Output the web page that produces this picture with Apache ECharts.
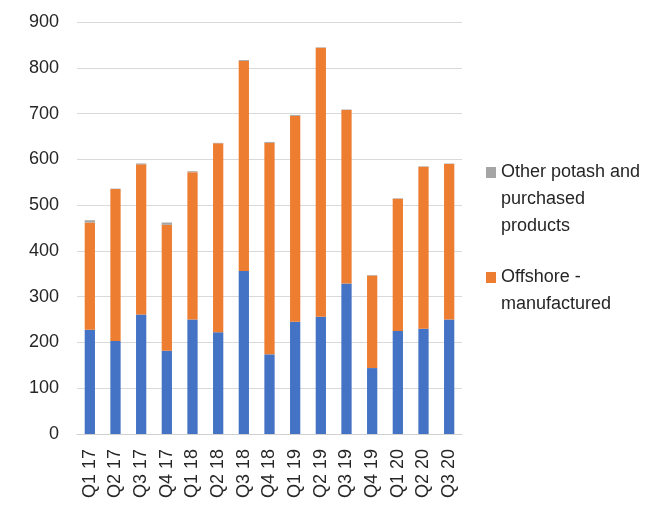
<!DOCTYPE html>
<html>
<head>
<meta charset="utf-8">
<script src="https://cdn.jsdelivr.net/npm/echarts@6/dist/echarts.min.js"></script>
<style>
  html, body { margin: 0; padding: 0; background: #fff; }
  #chart { width: 658px; height: 506px; }
</style>
</head>
<body>
<div id="chart"></div>
<script>
// Quarterly potash sales volumes, stacked by source
const quarters = ['Q1 17','Q2 17','Q3 17','Q4 17','Q1 18','Q2 18','Q3 18','Q4 18',
                  'Q1 19','Q2 19','Q3 19','Q4 19','Q1 20','Q2 20','Q3 20'];
const northAmerica = [228, 203, 261, 182, 250, 222, 356, 174, 245, 256, 329, 144, 225, 230, 250];
const offshore     = [234, 332, 328, 275, 322, 413, 459, 462, 450, 588, 379, 202, 289, 354, 340];
const otherPotash  = [5, 1, 2, 5, 2, 1, 2, 2, 2, 1, 1, 1, 1, 1, 1];
const yTicks = { min: 0, max: 900, step: 100 };

const NAME_NA = 'North America - manufactured';
const NAME_OFF = 'Offshore - manufactured';
const NAME_OTHER = 'Other potash and purchased products';
const wrappedLines = {};
wrappedLines[NAME_OFF] = ['Offshore -', 'manufactured'];
wrappedLines[NAME_OTHER] = ['Other potash and', 'purchased', 'products'];

const FONT = '"Liberation Sans", Arial, sans-serif';
const FONT_SIZE = 18;
const LINE_H = 27;

// Legend text is centred on its marker, so blank lines are prepended
// to bring the first line of a wrapped label level with the marker.
function legendLabel(name) {
  const lines = wrappedLines[name];
  return '\n'.repeat(lines.length - 1) + lines.join('\n');
}

function legendBlock(name, markerCenterY) {
  const n = wrappedLines[name].length;
  const blockH = (2 * n - 1) * LINE_H;
  return {
    data: [name],
    orient: 'vertical',
    left: 486,
    top: markerCenterY - blockH / 2,
    padding: 0,
    itemWidth: 10,
    itemHeight: 11,
    itemGap: 0,
    icon: 'rect',
    selectedMode: false,
    formatter: legendLabel,
    textStyle: {
      fontFamily: FONT,
      fontSize: FONT_SIZE,
      color: '#262626',
      lineHeight: LINE_H
    }
  };
}

const chart = echarts.init(document.getElementById('chart'), null, { renderer: 'canvas' });
chart.setOption({
  animation: false,
  backgroundColor: '#ffffff',
  grid: { left: 77, right: 196, top: 22, bottom: 72, containLabel: false },
  legend: [
    legendBlock(NAME_OTHER, 172.5),
    legendBlock(NAME_OFF, 277.5)
  ],
  xAxis: {
    type: 'category',
    data: quarters,
    axisLine: { lineStyle: { color: '#d0d0d0', width: 1 } },
    axisTick: { show: false },
    axisLabel: {
      interval: 0,
      rotate: 90,
      margin: 15,
      fontFamily: FONT,
      fontSize: FONT_SIZE,
      color: '#262626'
    }
  },
  yAxis: {
    type: 'value',
    min: yTicks.min,
    max: yTicks.max,
    interval: yTicks.step,
    axisLine: { show: false },
    axisTick: { show: false },
    splitLine: { lineStyle: { color: '#d9d9d9', width: 1 } },
    axisLabel: {
      margin: 18,
      fontFamily: FONT,
      fontSize: FONT_SIZE,
      color: '#262626'
    }
  },
  series: [
    {
      name: NAME_NA, type: 'bar', stack: 'vol', barWidth: '40%',
      itemStyle: { color: '#4472C4' }, data: northAmerica
    },
    {
      name: NAME_OFF, type: 'bar', stack: 'vol', barWidth: '40%',
      itemStyle: { color: '#ED7D31' }, data: offshore
    },
    {
      name: NAME_OTHER, type: 'bar', stack: 'vol', barWidth: '40%',
      itemStyle: { color: '#A5A5A5' }, data: otherPotash
    }
  ]
});
</script>
</body>
</html>
